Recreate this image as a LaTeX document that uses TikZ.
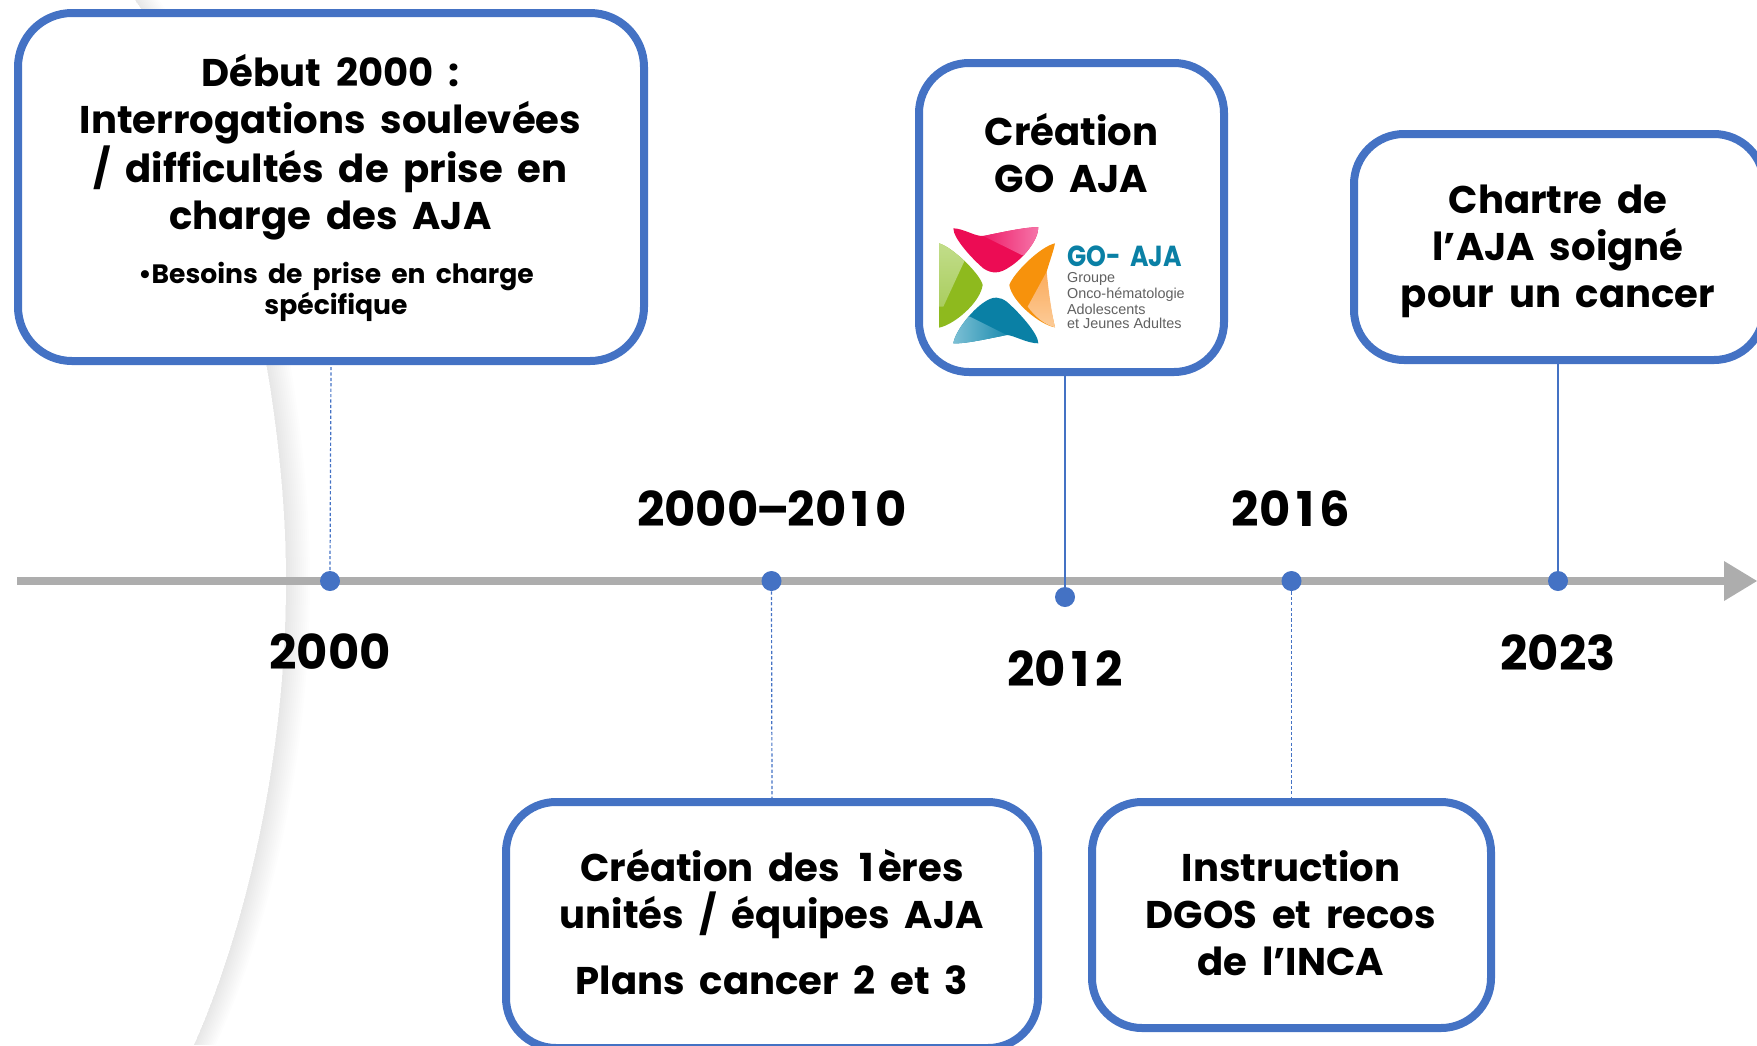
\documentclass[tikz,border=0pt]{standalone}
\usepackage{fontspec}
\setmainfont{Poppins}[WordSpace=1.8]
\newfontfamily\logofont{Liberation Sans}
\usetikzlibrary{calc}
\definecolor{bleu}{HTML}{4472C4}
\definecolor{axe}{HTML}{ADADAD}
\definecolor{logoteal}{HTML}{0A80A5}
\newcommand{\chifun}{\makebox[0.6em]{1}}
\tikzset{
  x=0.5pt,y=-0.5pt,
  boite/.style={draw=bleu,line width=4pt,fill=white,rectangle,inner sep=0pt},
  titre/.style={align=center,inner sep=0pt,font=\fontsize{19.3}{23.5}\selectfont\bfseries,text=black},
  soustitre/.style={align=center,inner sep=0pt,font=\fontsize{13.3}{15.7}\selectfont\bfseries,text=black},
  annee/.style={inner sep=0pt,font=\fontsize{24}{28}\selectfont\bfseries,text=black},
  point/.style={circle,fill=bleu,minimum size=10pt,inner sep=0pt},
  liendash/.style={draw=bleu,line width=0.6pt,dash pattern=on 1.6pt off 1.1pt},
  lien/.style={draw=bleu,line width=0.75pt},
  logotxt/.style={anchor=west,inner sep=0pt,text=black!62,font=\logofont\fontsize{7.2}{8}\selectfont}
}
\begin{document}
\begin{tikzpicture}
\useasboundingbox (0,0) rectangle (1757,1045);
% background swoosh
\foreach \d in {2,4,...,24}{
  \fill[black,opacity=0.007] (135,0) .. controls (235,140) and (286,400) .. (286,580)
     .. controls (286,760) and (245,930) .. (194,1045)
     -- (194+0.9*\d,1045) .. controls (245+\d,930) and (286+\d,760) .. (286+\d,580)
     .. controls (286+\d,400) and (235+\d,140) .. (135+\d,0) -- cycle;
}
% axis
\coordinate (debut) at (17,581);
\coordinate (fin) at (1726,581);
\draw[axe,line width=4pt] (debut) -- (fin);
\fill[axe] (1724,561) -- (1757,581) -- (1724,601) -- cycle;
% dots
\node[point] (p2000) at (330,581) {};
\node[point] (p2010) at (771.5,581) {};
\node[point] (p2012) at (1065,597) {};
\node[point] (p2016) at (1291.5,581) {};
\node[point] (p2023) at (1558,581) {};
% boxes
\node[boite,minimum width=313pt,minimum height=174pt,rounded corners=27pt] (b1) at (331,187) {};
\node[boite,minimum width=152.5pt,minimum height=154.5pt,rounded corners=25pt] (b2) at (1071.5,217.5) {};
\node[boite,minimum width=205pt,minimum height=113pt,rounded corners=25pt] (b3) at (1559,247) {};
\node[boite,minimum width=266pt,minimum height=123pt,rounded corners=25pt] (b4) at (772,925) {};
\node[boite,minimum width=199.5pt,minimum height=113pt,rounded corners=25pt] (b5) at (1291.5,915) {};
% connectors
\draw[liendash] (b1.south) ++(0,-1pt) -- (p2000.north);
\draw[liendash] (p2010.south) -- (b4.north);
\draw[liendash] (p2016.south) -- (b5.north);
\draw[lien] (b2.south -| p2012) -- (p2012.north);
\draw[lien] (b3.south -| p2023) -- (p2023.north);
% box texts
\node[titre] (t1) at (330.5,147) {Début 2000 :\\Interrogations soulevées\\/ difficultés de prise en\\charge des AJA};
\node[soustitre] (t1b) at (336,292) {•Besoins de prise en charge\\spécifique};
\node[titre] (t2) at (1071.5,153) {Création\\GO AJA};
\node[titre] (t3) at (1558,251) {Chartre de\\l’AJA soigné\\pour un cancer};
\node[titre] (t4) at (772,894.5) {Création des \chifun ères\\unités / équipes AJA};
\node[titre] (t4b) at (772,980) {Plans cancer 2 et 3};
\node[titre] (t5) at (1291,913) {Instruction\\DGOS et recos\\de l\symbol{39}INCA};
% years
\node[annee] (a2010) at (772,509) {2000\kern-1pt–\kern-1pt 20\chifun 0};
\node[annee] (a2016) at (1291,509) {20\chifun 6};
\node[annee] (a2000) at (330,652) {2000};
\node[annee] (a2012) at (1065,669) {20\chifun 2};
\node[annee] (a2023) at (1558,653) {2023};
% logo
\begin{scope}[shift={(900,50)},scale=1/3]
 % pink
 \begin{scope}
  \clip (160,535) .. controls (190,535) and (225,560) .. (250,558) .. controls (300,548) and (380,530) .. (415,532)
     .. controls (415,570) and (370,625) .. (330,650) .. controls (300,672) and (275,672) .. (250,655) .. controls (215,625) and (160,565) .. (160,535) -- cycle;
  \fill[color={rgb,255:red,236;green,12;blue,84}] (150,525) rectangle (425,680);
  \shade[left color={rgb,255:red,238;green,30;blue,105},right color={rgb,255:red,246;green,125;blue,175}] (250,558) -- (365,615) -- (430,615) -- (430,525) -- (250,525) -- cycle;
 \end{scope}
 % green
 \begin{scope}
  \clip (117,580) .. controls (155,590) and (240,670) .. (248,705) .. controls (240,760) and (160,825) .. (117,833) -- cycle;
  \fill[color={rgb,255:red,142;green,186;blue,30}] (110,570) rectangle (255,840);
  \shade[top color={rgb,255:red,195;green,222;blue,140},bottom color={rgb,255:red,170;green,205;blue,95}] (110,570) -- (197,625) -- (130,770) -- (110,770) -- cycle;
 \end{scope}
 % orange
 \begin{scope}
  \clip (465,580) .. controls (420,590) and (340,670) .. (328,705) .. controls (335,755) and (420,825) .. (465,832) .. controls (455,790) and (440,720) .. (440,665) .. controls (450,630) and (460,605) .. (465,580) -- cycle;
  \fill[color={rgb,255:red,247;green,146;blue,12}] (320,570) rectangle (470,840);
 \end{scope}
 \begin{scope}
  \clip (440,665) .. controls (445,720) and (455,790) .. (465,832) .. controls (435,825) and (405,800) .. (383,770) -- cycle;
  \shade[top color={rgb,255:red,251;green,170;blue,90},bottom color={rgb,255:red,252;green,205;blue,155}] (370,660) rectangle (470,840);
 \end{scope}
 % teal
 \begin{scope}
  \clip (415,880) .. controls (380,880) and (340,855) .. (320,855) .. controls (270,865) and (195,882) .. (160,880) .. controls (165,845) and (215,780) .. (255,755) .. controls (280,738) and (300,740) .. (320,755) .. controls (355,785) and (415,850) .. (415,880) -- cycle;
  \fill[color={rgb,255:red,10;green,128;blue,165}] (150,730) rectangle (425,890);
  \shade[left color={rgb,255:red,130;green,195;blue,215},right color={rgb,255:red,30;green,140;blue,175}] (150,890) -- (150,790) -- (210,800) -- (320,855) -- (320,890) -- cycle;
 \end{scope}
 \node[anchor=west,inner sep=0pt,text=logoteal] (lg) at (500,618) {\scalebox{1}[1.15]{\fontsize{12.6}{14}\selectfont\bfseries GO- AJA}};
 \node[logotxt] (l1) at (500,686) {Groupe};
 \node[logotxt] (l2) at (500,733) {Onco-hématologie};
 \node[logotxt] (l3) at (500,778) {Adolescents};
 \node[logotxt] (l4) at (500,820) {et Jeunes Adultes};
\end{scope}
\end{tikzpicture}
\end{document}
